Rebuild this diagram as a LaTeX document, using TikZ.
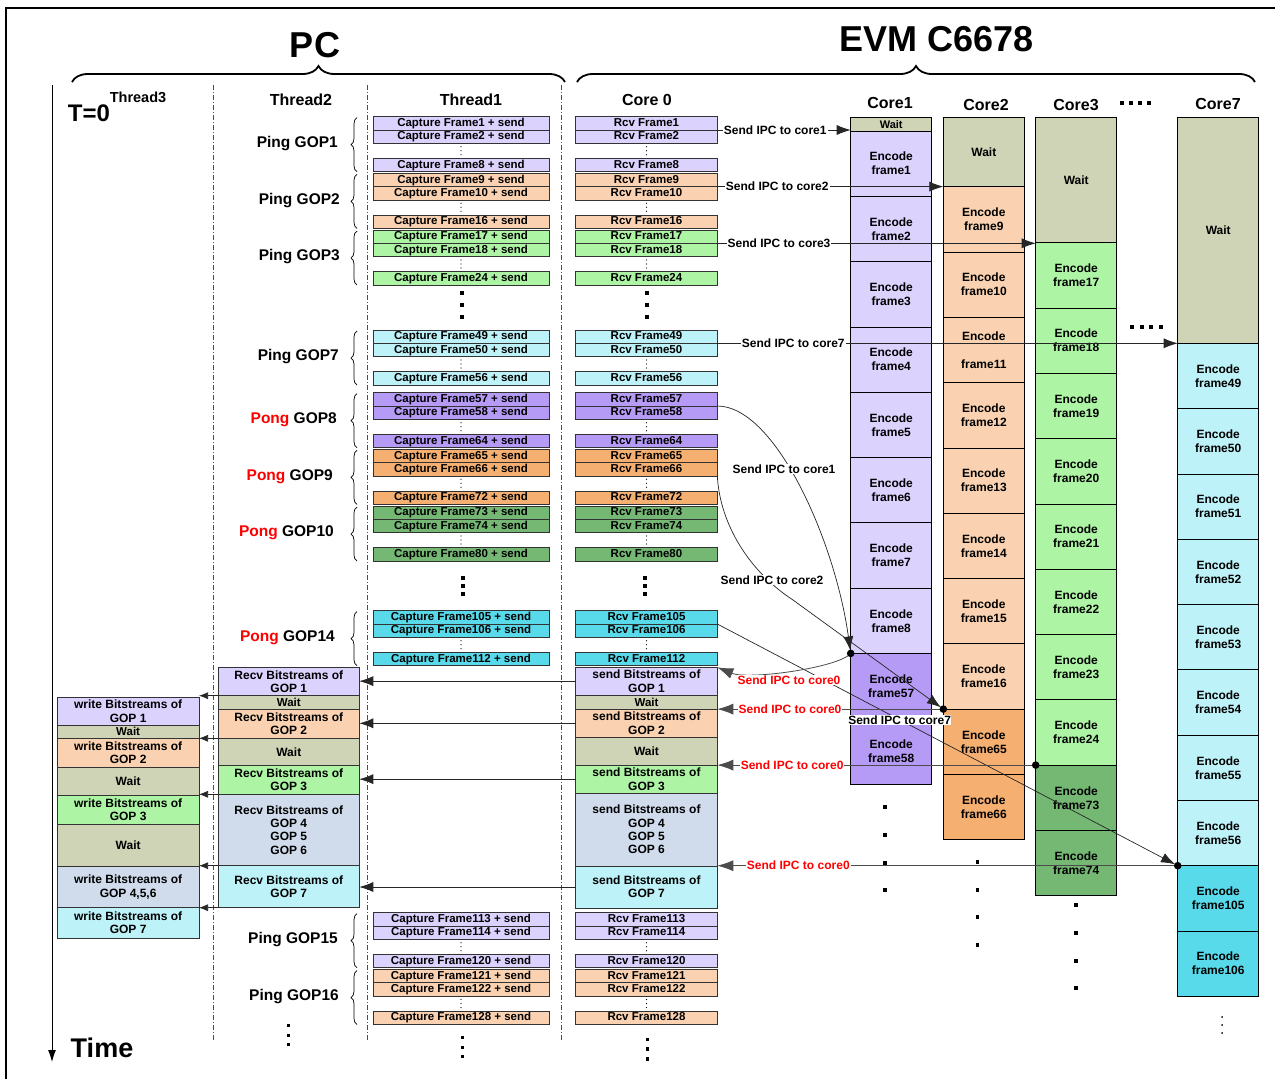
\documentclass[tikz,border=0pt]{standalone}
\usepackage{fontspec}
\setmainfont{Liberation Sans}
\usetikzlibrary{arrows.meta,decorations.pathreplacing,calc}

\definecolor{lav}{RGB}{220,210,254}
\definecolor{peach}{RGB}{250,210,177}
\definecolor{lgrn}{RGB}{173,245,165}
\definecolor{lcyn}{RGB}{189,242,248}
\definecolor{purp}{RGB}{182,155,246}
\definecolor{orng}{RGB}{245,175,112}
\definecolor{dgrn}{RGB}{116,184,116}
\definecolor{cyn}{RGB}{88,218,234}
\definecolor{waitc}{RGB}{206,212,181}
\definecolor{bgrey}{RGB}{208,220,236}

\newcommand\myfs[2]{\fontsize{#1}{#2}\selectfont\bfseries}
\newcommand\sqdot[2]{\fill ({#1-1.6},{#2-1.6}) rectangle ({#1+1.6},{#2+1.6});}

\begin{document}
\begin{tikzpicture}[x=1pt,y=-1pt,
  rowbox/.style={draw=black!80, line width=0.7pt, anchor=north west, inner sep=0pt,
    outer sep=0pt, minimum height=13.3pt, font=\myfs{11.5}{12}, text height=8.3pt, text depth=2.2pt},
  t1row/.style={rowbox, minimum width=176pt},
  c0row/.style={rowbox, minimum width=141.6pt},
  core/.style={draw=black, line width=0.7pt, anchor=north west, inner sep=0pt,
    outer sep=0pt, minimum width=81pt, font=\myfs{12}{14}, align=center},
  bits/.style={draw=black!80, line width=0.7pt, anchor=north west, inner sep=0pt,
    outer sep=0pt, font=\myfs{12}{13.3}, align=center},
  head/.style={font=\myfs{16}{18}},
  goplab/.style={font=\myfs{15.5}{17}, anchor=east, inner sep=0pt},
  gbrace/.style={decorate, decoration={brace, amplitude=6pt}, line width=0.7pt},
  bigbrace/.style={decorate, decoration={brace, amplitude=16pt}, line width=1.8pt},
  sep/.style={draw=black!70, line width=0.8pt, dash pattern=on 5pt off 2pt on 1pt off 2pt},
  arr/.style={draw=black!85, line width=0.7pt, -{Latex[length=9pt,width=7pt]}},
  bigarr/.style={draw=black!85, line width=0.7pt, -{Latex[length=14pt,width=10pt]}},
  redarr/.style={draw=black!70, line width=0.8pt, -{Latex[length=16pt,width=11pt]}},
  ipclab/.style={fill=white, inner sep=1pt, font=\myfs{12}{13}},
  redlab/.style={ipclab, text=red}
]
\useasboundingbox (0,0) rectangle (1275,1079);
\fill[white] (0,0) rectangle (1275,1079);

% outer frame
\draw[line width=2pt] (6,1100) -- (6,8) -- (1290,8);

% titles and braces
\node[font=\myfs{36}{40}] (pc) at (315,45) {PC};
\node[font=\myfs{36}{40}] (evm) at (937,39) {EVM C6678};
\draw[bigbrace] (72,82) -- (565,82);
\draw[bigbrace] (577,82) -- (1255,82);

% time axis
\coordinate (t0) at (52,85);
\coordinate (tend) at (52,1062);
\draw[line width=1pt, -{Latex[length=12pt,width=8pt]}] (t0) -- (tend);
\node[font=\myfs{27}{30}] (time) at (102,1048) {Time};
\node[font=\myfs{24}{26}] (tzero) at (89,113) {T=0};
\node[font=\myfs{14.5}{16}] (th3) at (138,97) {Thread3};

% column separators
\foreach \xx in {213.5,367,561} {\draw[sep] (\xx,85) -- (\xx,1041);}

% column headings
\node[head] (th2) at (301,100) {Thread2};
\node[head] (th1) at (471,100) {Thread1};
\node[head] (hc0) at (647,100) {Core 0};
\node[head] (hc1) at (890,103) {Core1};
\node[head] (hc2) at (986,105) {Core2};
\node[head] (hc3) at (1076,105) {Core3};
\node[head] (hc7) at (1218,104) {Core7};
\foreach \xx in {1122,1131,1140,1149} {\sqdot{\xx}{103}}
\foreach \xx in {1132,1142,1151,1161} {\sqdot{\xx}{327}}

% capture / receive groups of eight frames
\foreach \gp/\sy/\col/\fa/\fb/\fc/\pp/\pc/\lx in {
  1/116.7/lav/1/2/8/Ping/black/338,
  2/173.3/peach/9/10/16/Ping/black/340,
  3/230/lgrn/17/18/24/Ping/black/340,
  7/330/lcyn/49/50/56/Ping/black/339,
  8/392.7/purp/57/58/64/Pong/red/337,
  9/449.3/orng/65/66/72/Pong/red/333,
  10/506/dgrn/73/74/80/Pong/red/334,
  14/610.7/cyn/105/106/112/Pong/red/335,
  15/912.7/lav/113/114/120/Ping/black/338,
  16/969.5/peach/121/122/128/Ping/black/339}{
  \node[t1row,fill=\col] (t1g\gp-a) at (373,\sy) {Capture Frame\fa{} + send};
  \node[t1row,fill=\col] (t1g\gp-b) at (373,\sy+13.3) {Capture Frame\fb{} + send};
  \node[t1row,fill=\col] (t1g\gp-c) at (373,\sy+41.7) {Capture Frame\fc{} + send};
  \node[c0row,fill=\col] (c0g\gp-a) at (575.7,\sy) {Rcv Frame\fa};
  \node[c0row,fill=\col] (c0g\gp-b) at (575.7,\sy+13.3) {Rcv Frame\fb};
  \node[c0row,fill=\col] (c0g\gp-c) at (575.7,\sy+41.7) {Rcv Frame\fc};
  \foreach \dd in {30,34,38} {
    \fill (461,\sy+\dd) circle (0.65pt);
    \fill (646.5,\sy+\dd) circle (0.65pt);
  }
  \draw[gbrace] (357,\sy+55) -- (357,\sy+1);
  \node[goplab] (gl\gp) at (\lx,\sy+27) {\textcolor{\pc}{\pp} GOP\gp};
}

% elision dots in the frame columns
\foreach \yy in {293,305,317} {\sqdot{462}{\yy}\sqdot{647}{\yy}}
\foreach \yy in {578,586,594} {\sqdot{463}{\yy}\sqdot{645}{\yy}}
\foreach \yy in {1025.7,1035.3,1044.6} {\sqdot{288.8}{\yy}}
\foreach \yy in {1037.7,1047.4,1056.7} {\sqdot{462.4}{\yy}}
\foreach \yy in {1039.5,1049,1059} {\sqdot{647.7}{\yy}}

% Thread2: receiving bitstreams
\node[bits,fill=lav,minimum width=141pt,minimum height=28.4pt] (r1) at (218.3,667.3) {Recv Bitstreams of\\GOP 1};
\node[bits,fill=waitc,minimum width=141pt,minimum height=13.6pt,font=\myfs{11.5}{12}] (rw1) at (218.3,695.7) {Wait};
\node[bits,fill=peach,minimum width=141pt,minimum height=29pt] (r2) at (218.3,709.3) {Recv Bitstreams of\\GOP 2};
\node[bits,fill=waitc,minimum width=141pt,minimum height=27pt] (rw2) at (218.3,738.3) {Wait};
\node[bits,fill=lgrn,minimum width=141pt,minimum height=29pt] (r3) at (218.3,765.3) {Recv Bitstreams of\\GOP 3};
\node[bits,fill=bgrey,minimum width=141pt,minimum height=71.4pt] (r4) at (218.3,794.3) {Recv Bitstreams of\\GOP 4\\GOP 5\\GOP 6};
\node[bits,fill=lcyn,minimum width=141pt,minimum height=42pt] (r7) at (218.3,865.7) {Recv Bitstreams of\\GOP 7};

% Core 0: sending bitstreams
\node[bits,fill=lav,minimum width=141.6pt,minimum height=27.7pt] (s1) at (575.7,667.3) {send Bitstreams of\\GOP 1};
\node[bits,fill=waitc,minimum width=141.6pt,minimum height=14.3pt,font=\myfs{11.5}{12}] (sw1) at (575.7,695) {Wait};
\node[bits,fill=peach,minimum width=141.6pt,minimum height=28pt] (s2) at (575.7,709.3) {send Bitstreams of\\GOP 2};
\node[bits,fill=waitc,minimum width=141.6pt,minimum height=27.7pt] (sw2) at (575.7,737.3) {Wait};
\node[bits,fill=lgrn,minimum width=141.6pt,minimum height=28.3pt] (s3) at (575.7,765) {send Bitstreams of\\GOP 3};
\node[bits,fill=bgrey,minimum width=141.6pt,minimum height=72.7pt] (s4) at (575.7,793.3) {send Bitstreams of\\GOP 4\\GOP 5\\GOP 6};
\node[bits,fill=lcyn,minimum width=141.6pt,minimum height=42pt] (s7) at (575.7,866) {send Bitstreams of\\GOP 7};

% Thread3: writing bitstreams
\node[bits,fill=lav,minimum width=141.7pt,minimum height=28pt] (w1) at (57.3,697.3) {write Bitstreams of\\GOP 1};
\node[bits,fill=waitc,minimum width=141.7pt,minimum height=13pt,font=\myfs{11.5}{12}] (ww1) at (57.3,725.3) {Wait};
\node[bits,fill=peach,minimum width=141.7pt,minimum height=29.4pt] (w2) at (57.3,738.3) {write Bitstreams of\\GOP 2};
\node[bits,fill=waitc,minimum width=141.7pt,minimum height=28pt] (ww2) at (57.3,767.7) {Wait};
\node[bits,fill=lgrn,minimum width=141.7pt,minimum height=28.3pt] (w3) at (57.3,795.7) {write Bitstreams of\\GOP 3};
\node[bits,fill=waitc,minimum width=141.7pt,minimum height=42.7pt] (ww3) at (57.3,824) {Wait};
\node[bits,fill=bgrey,minimum width=141.7pt,minimum height=41pt] (w4) at (57.3,866.7) {write Bitstreams of\\GOP 4,5,6};
\node[bits,fill=lcyn,minimum width=141.7pt,minimum height=30.6pt] (w7) at (57.3,907.7) {write Bitstreams of\\GOP 7};

% encoder cores
\node[core,fill=waitc,minimum height=13.7pt,font=\myfs{11}{12}] (k1w) at (850.7,117.3) {Wait};
\foreach \i/\f/\col in {0/1/lav,1/2/lav,2/3/lav,3/4/lav,4/5/lav,5/6/lav,6/7/lav,7/8/lav,8/57/purp,9/58/purp}
  {\node[core,fill=\col,minimum height=65.3pt] (k1f\f) at (850.7,131+65.3*\i) {Encode\\frame\f};}

\node[core,fill=waitc,minimum height=69.4pt] (k2w) at (943.3,117.3) {Wait};
\foreach \i/\f/\col/\gap in {0/9/peach/0pt,1/10/peach/0pt,2/11/peach/14pt,3/12/peach/0pt,4/13/peach/0pt,5/14/peach/0pt,6/15/peach/0pt,7/16/peach/0pt,8/65/orng/0pt,9/66/orng/0pt}
  {\node[core,fill=\col,minimum height=65.3pt] (k2f\f) at (943.3,186.7+65.3*\i) {Encode\\[\gap]frame\f};}

\node[core,fill=waitc,minimum height=125.4pt] (k3w) at (1035.7,117.3) {Wait};
\foreach \i/\f/\col in {0/17/lgrn,1/18/lgrn,2/19/lgrn,3/20/lgrn,4/21/lgrn,5/22/lgrn,6/23/lgrn,7/24/lgrn,8/73/dgrn,9/74/dgrn}
  {\node[core,fill=\col,minimum height=65.3pt] (k3f\f) at (1035.7,242.7+65.3*\i) {Encode\\frame\f};}

\node[core,fill=waitc,minimum height=226pt] (k7w) at (1177.7,117.3) {Wait};
\foreach \i/\f/\col in {0/49/lcyn,1/50/lcyn,2/51/lcyn,3/52/lcyn,4/53/lcyn,5/54/lcyn,6/55/lcyn,7/56/lcyn,8/105/cyn,9/106/cyn}
  {\node[core,fill=\col,minimum height=65.3pt] (k7f\f) at (1177.7,343.3+65.3*\i) {Encode\\frame\f};}

% elision dots under the cores
\foreach \yy in {807,835,863,890} {\sqdot{885}{\yy}}
\foreach \yy in {862,890,917,945} {\sqdot{977.7}{\yy}}
\foreach \yy in {905,933,961,988} {\sqdot{1076}{\yy}}
\foreach \yy in {1017,1025,1033} {\fill (1222,\yy) circle (1pt);}

% bitstream hand-over between threads
\foreach \a/\b in {r1/w1,r2/w2,r3/w3,r4/w4,r7/w7}
  {\draw[arr] (\a.south west) -- (\a.south west -| \b.east);}
\foreach \a/\b in {s1/r1,s2/r2,s3/r3,s7/r7}
  {\draw[bigarr] (\a.west) -- (\a.west -| \b.east);}

% IPC from core 0 to the encoder cores
\draw[bigarr] (c0g1-a.south east) -- node[ipclab,pos=0.434] {Send IPC to core1} (c0g1-a.south east -| k1w.west);
\draw[bigarr] (c0g2-a.south east) -- node[ipclab,pos=0.265] {Send IPC to core2} (c0g2-a.south east -| k2w.west);
\draw[bigarr] (c0g3-a.south east) -- node[ipclab,pos=0.194] {Send IPC to core3} (c0g3-a.south east -| k3w.west);
\draw[bigarr] (c0g7-a.south east) -- node[ipclab,pos=0.165] {Send IPC to core7} (c0g7-a.south east -| k7w.west);

\draw[bigarr,shorten >=3pt] (c0g8-a.south east) .. controls (775,406) and (835,540) .. (k1f57.north west)
  node[ipclab] at (784,469) {Send IPC to core1};
\draw[bigarr,shorten >=3pt] (c0g9-b.south east) .. controls (720,525) and (750,572) .. (793,600) -- (k2f65.north west)
  node[ipclab] at (772,580) {Send IPC to core2};
\draw[bigarr,shorten >=3pt] (c0g14-a.south east) -- node[ipclab,pos=0.396,inner sep=0.5pt] {Send IPC to core7} (k7f105.north west);

% IPC back to core 0
\draw[redarr] (k1f57.north west) .. controls (838,668) and (748,680) .. (s1.north east)
  node[redlab] at (789,680) {Send IPC to core0};
\draw[redarr] (k2f65.north west) -- node[redlab,pos=0.678] {Send IPC to core0} (k2f65.north west -| s2.east);
\draw[redarr] (k3f73.north west) -- node[redlab,pos=0.765] {Send IPC to core0} (k3f73.north west -| s3.east);
\draw[redarr] (k7f105.north west) -- node[redlab,pos=0.824] {Send IPC to core0} (k7f105.north west -| s7.east);

% junction dots
\foreach \n in {k1f57,k2f65,k3f73,k7f105} {\fill (\n.north west) circle (3.8pt);}

\end{tikzpicture}
\end{document}
